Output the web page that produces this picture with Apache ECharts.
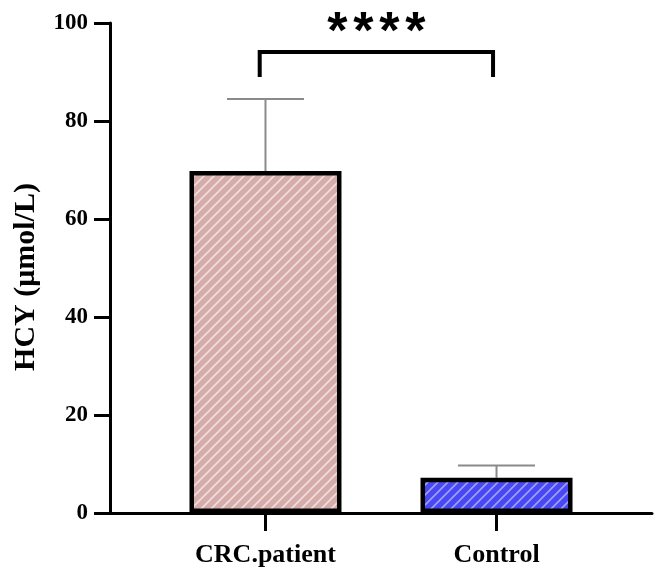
<!DOCTYPE html>
<html lang="en">
<head>
    <meta charset="UTF-8">
    <title>HCY</title>
    <script src="https://cdn.jsdelivr.net/npm/echarts@6/dist/echarts.min.js"></script>
    <style>
        html, body { margin: 0; padding: 0; background: #fff; }
        #chart { width: 657px; height: 571px; }
    </style>
</head>
<body>
    <div id="chart"></div>
    <script>
        // data
        const groups = ['CRC.patient', 'Control'];
        const groupPos = [1, 2];
        const means = [69.8, 7.2];
        const upperErr = [84.5, 9.7];
        const bracketX = [0.975, 1.985];
        const bracketTop = 94.1;
        const bracketFoot = 89;
        const sigLabel = '****';

        // hatched fills
        function stripes(base, line) {
            const c = document.createElement('canvas');
            c.width = c.height = 10;
            const g = c.getContext('2d');
            g.fillStyle = base;
            g.fillRect(0, 0, 10, 10);
            g.strokeStyle = line;
            g.lineWidth = 1.6;
            g.beginPath();
            g.moveTo(0, 10); g.lineTo(10, 0);
            g.moveTo(-5, 5); g.lineTo(5, -5);
            g.moveTo(5, 15); g.lineTo(15, 5);
            g.stroke();
            return { image: c, repeat: 'repeat' };
        }
        const fills = [stripes('#d5acaa', '#efdedd'), stripes('#4848f4', '#a0a0f6')];

        const serif = '"Liberation Serif", "Times New Roman", serif';
        const chart = echarts.init(document.getElementById('chart'));

        chart.setOption({
            animation: false,
            grid: { left: 110, right: 5, top: 23, bottom: 58, outerBoundsMode: 'none' },
            xAxis: {
                type: 'value',
                min: 0.327,
                max: 2.673,
                splitLine: { show: false },
                axisLine: { show: true, onZero: false, lineStyle: { color: '#000', width: 3 } },
                axisTick: { show: true, customValues: groupPos, length: 18, lineStyle: { color: '#000', width: 3 } },
                axisLabel: {
                    customValues: groupPos,
                    formatter: v => groups[groupPos.indexOf(v)] || '',
                    color: '#000', fontFamily: serif, fontWeight: 'bold', fontSize: 26, margin: 29
                }
            },
            yAxis: {
                type: 'value',
                min: 0,
                max: 100,
                interval: 20,
                name: 'HCY (μmol/L)',
                nameLocation: 'middle',
                nameGap: 69,
                nameTextStyle: { color: '#000', fontFamily: serif, fontWeight: 'bold', fontSize: 30, padding: [0, 18, 0, 0] },
                splitLine: { show: false },
                axisLine: { show: true, lineStyle: { color: '#000', width: 3 } },
                axisTick: { show: true, length: 16, lineStyle: { color: '#000', width: 3 } },
                axisLabel: { color: '#000', fontFamily: serif, fontWeight: 'bold', fontSize: 23, margin: 22 }
            },
            series: [
                {
                    // error bars (upper only)
                    type: 'custom',
                    z: 1,
                    data: groupPos.map((x, i) => [x, means[i], upperErr[i]]),
                    encode: { x: 0, y: [1, 2] },
                    renderItem: function (params, api) {
                        const lo = api.coord([api.value(0), api.value(1)]);
                        const hi = api.coord([api.value(0), api.value(2)]);
                        const style = { stroke: '#8a8a8a', lineWidth: 2 };
                        return {
                            type: 'group',
                            children: [
                                { type: 'line', shape: { x1: lo[0], y1: lo[1], x2: hi[0], y2: hi[1] }, style },
                                { type: 'line', shape: { x1: hi[0] - 38.5, y1: hi[1], x2: hi[0] + 38.5, y2: hi[1] }, style }
                            ]
                        };
                    }
                },
                {
                    type: 'bar',
                    z: 2,
                    barWidth: 152,
                    data: groupPos.map((x, i) => ({
                        value: [x, means[i]],
                        itemStyle: { color: fills[i], borderColor: '#000', borderWidth: 4.5 }
                    }))
                },
                {
                    // significance bracket
                    type: 'custom',
                    z: 3,
                    data: [[bracketX[0], bracketTop, bracketX[1], bracketFoot]],
                    encode: { x: [0, 2], y: [1, 3] },
                    renderItem: function (params, api) {
                        const a = api.coord([api.value(0), api.value(1)]);
                        const b = api.coord([api.value(2), api.value(3)]);
                        const mid = (a[0] + b[0]) / 2;
                        const children = [{
                            type: 'polyline',
                            shape: { points: [[a[0], b[1]], [a[0], a[1]], [b[0], a[1]], [b[0], b[1]]] },
                            style: { stroke: '#000', lineWidth: 4, fill: null }
                        }];
                        const n = sigLabel.length;
                        for (let k = 0; k < n; k++) {
                            children.push({
                                type: 'text',
                                x: mid + (k - (n - 1) / 2) * 26,
                                y: 34,
                                style: {
                                    text: sigLabel[k], fill: '#000',
                                    font: 'bold 52px "Liberation Sans", Arial, sans-serif',
                                    align: 'center', verticalAlign: 'middle'
                                }
                            });
                        }
                        return { type: 'group', children };
                    }
                }
            ]
        });
    </script>
</body>
</html>
